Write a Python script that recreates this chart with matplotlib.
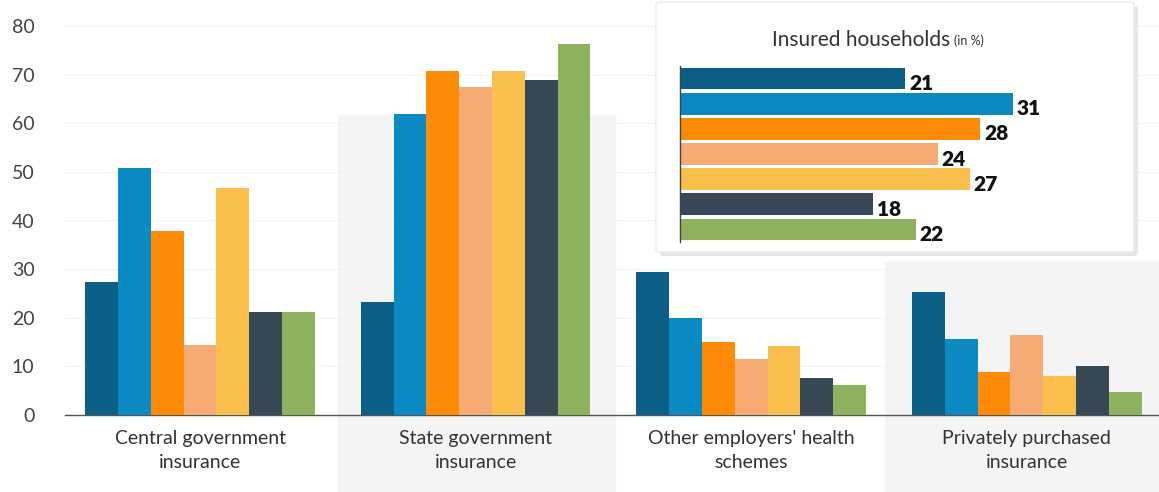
import matplotlib.pyplot as plt
import numpy as np
from matplotlib.patches import Rectangle, FancyBboxPatch

# categories and values for each household group (in %)
categories = ["Central government\ninsurance", "State government\ninsurance",
              "Other employers' health\nschemes", "Privately purchased\ninsurance"]
series_colors = ["#0b5e86", "#0a89c2", "#fd8b05", "#f6ab74", "#fbbf4e", "#374955", "#8fb25f"]
vals_central = [27.4, 50.8, 37.9, 14.4, 46.7, 21.2, 21.2]
vals_state = [23.3, 61.9, 70.8, 67.5, 70.8, 68.9, 76.3]
vals_other = [29.4, 20.0, 15.0, 11.5, 14.2, 7.6, 6.2]
vals_private = [25.3, 15.6, 8.8, 16.5, 8.0, 10.1, 4.7]
insured = [21, 31, 28, 24, 27, 18, 22]
yticks = [0, 10, 20, 30, 40, 50, 60, 70, 80]

font = ["Lato", "DejaVu Sans"]
W, H = 1159, 492
fig = plt.figure(figsize=(W / 100, H / 100), dpi=100)
fig.patch.set_facecolor("white")

# soft grey panels in the background
for x0, y0, x1 in [(338, 115, 615), (885, 262, 1159)]:
    fig.patches.append(Rectangle((x0 / W, 0), (x1 - x0) / W, 1 - y0 / H,
                                 transform=fig.transFigure, color="#f4f4f4", zorder=-5))

ax = fig.add_axes([65 / W, 1 - 415 / H, 1 - 65 / W, (415 - 26) / H])
ax.set_facecolor("none")
data = np.array([vals_central, vals_state, vals_other, vals_private])
n = data.shape[1]
bw = 0.119
x = np.arange(len(categories))
for i in range(n):
    ax.bar(x + (i - (n - 1) / 2) * bw, data[:, i], width=bw, color=series_colors[i], zorder=3)

ax.set_xlim(-0.49, 3.48)
ax.set_ylim(0, 80)
ax.set_yticks(yticks)
ax.set_yticklabels([str(t) for t in yticks], fontsize=14, color="#444444", family=font)
ax.set_xticks(x)
ax.set_xticklabels(categories, fontsize=14, color="#333333", family=font, linespacing=1.45)
ax.tick_params(axis="y", length=0, pad=22)
ax.tick_params(axis="x", length=0, pad=11)
ax.grid(axis="y", color="#f2f2f2", lw=0.8, zorder=0)
for s in ["top", "right", "left"]:
    ax.spines[s].set_visible(False)
ax.spines["bottom"].set_color("#555555")
ax.spines["bottom"].set_linewidth(1.0)

# inset box with shadow
fig.patches.append(FancyBboxPatch((660 / W, 1 - 256 / H), 478 / W, 250 / H,
                                  boxstyle="round,pad=0,rounding_size=0.004",
                                  transform=fig.transFigure, facecolor="#e6e6e6",
                                  edgecolor="none", zorder=4))
fig.patches.append(FancyBboxPatch((656 / W, 1 - 252 / H), 478 / W, 250 / H,
                                  boxstyle="round,pad=0,rounding_size=0.004",
                                  transform=fig.transFigure, facecolor="white",
                                  edgecolor="#e6e6e6", lw=0.8, zorder=5))
fig.text(950 / W, 1 - 40 / H, "Insured households", fontsize=15, color="#333333",
         family=font, ha="right", va="center", zorder=7)
fig.text(954 / W, 1 - 41 / H, "(in %)", fontsize=9, color="#333333",
         family=font, ha="left", va="center", zorder=7)

ins = fig.add_axes([680 / W, 1 - 242 / H, 440 / W, (242 - 66) / H], zorder=6)
ins.set_facecolor("none")
yy = np.arange(len(insured))
ins.barh(yy, insured, height=0.86, color=series_colors)
for yi, v in zip(yy, insured):
    ins.text(v + 0.35, yi + 0.2, str(v), fontsize=15, fontweight="heavy",
             color="#111111", family=font, va="center", ha="left")
ins.set_ylim(len(insured) - 0.5, -0.5)
ins.set_xlim(0, 41)
ins.set_xticks([])
ins.set_yticks([])
for s in ["top", "right", "bottom"]:
    ins.spines[s].set_visible(False)
ins.spines["left"].set_color("#444444")
ins.spines["left"].set_linewidth(1.0)

fig.savefig("out.png", dpi=100)
